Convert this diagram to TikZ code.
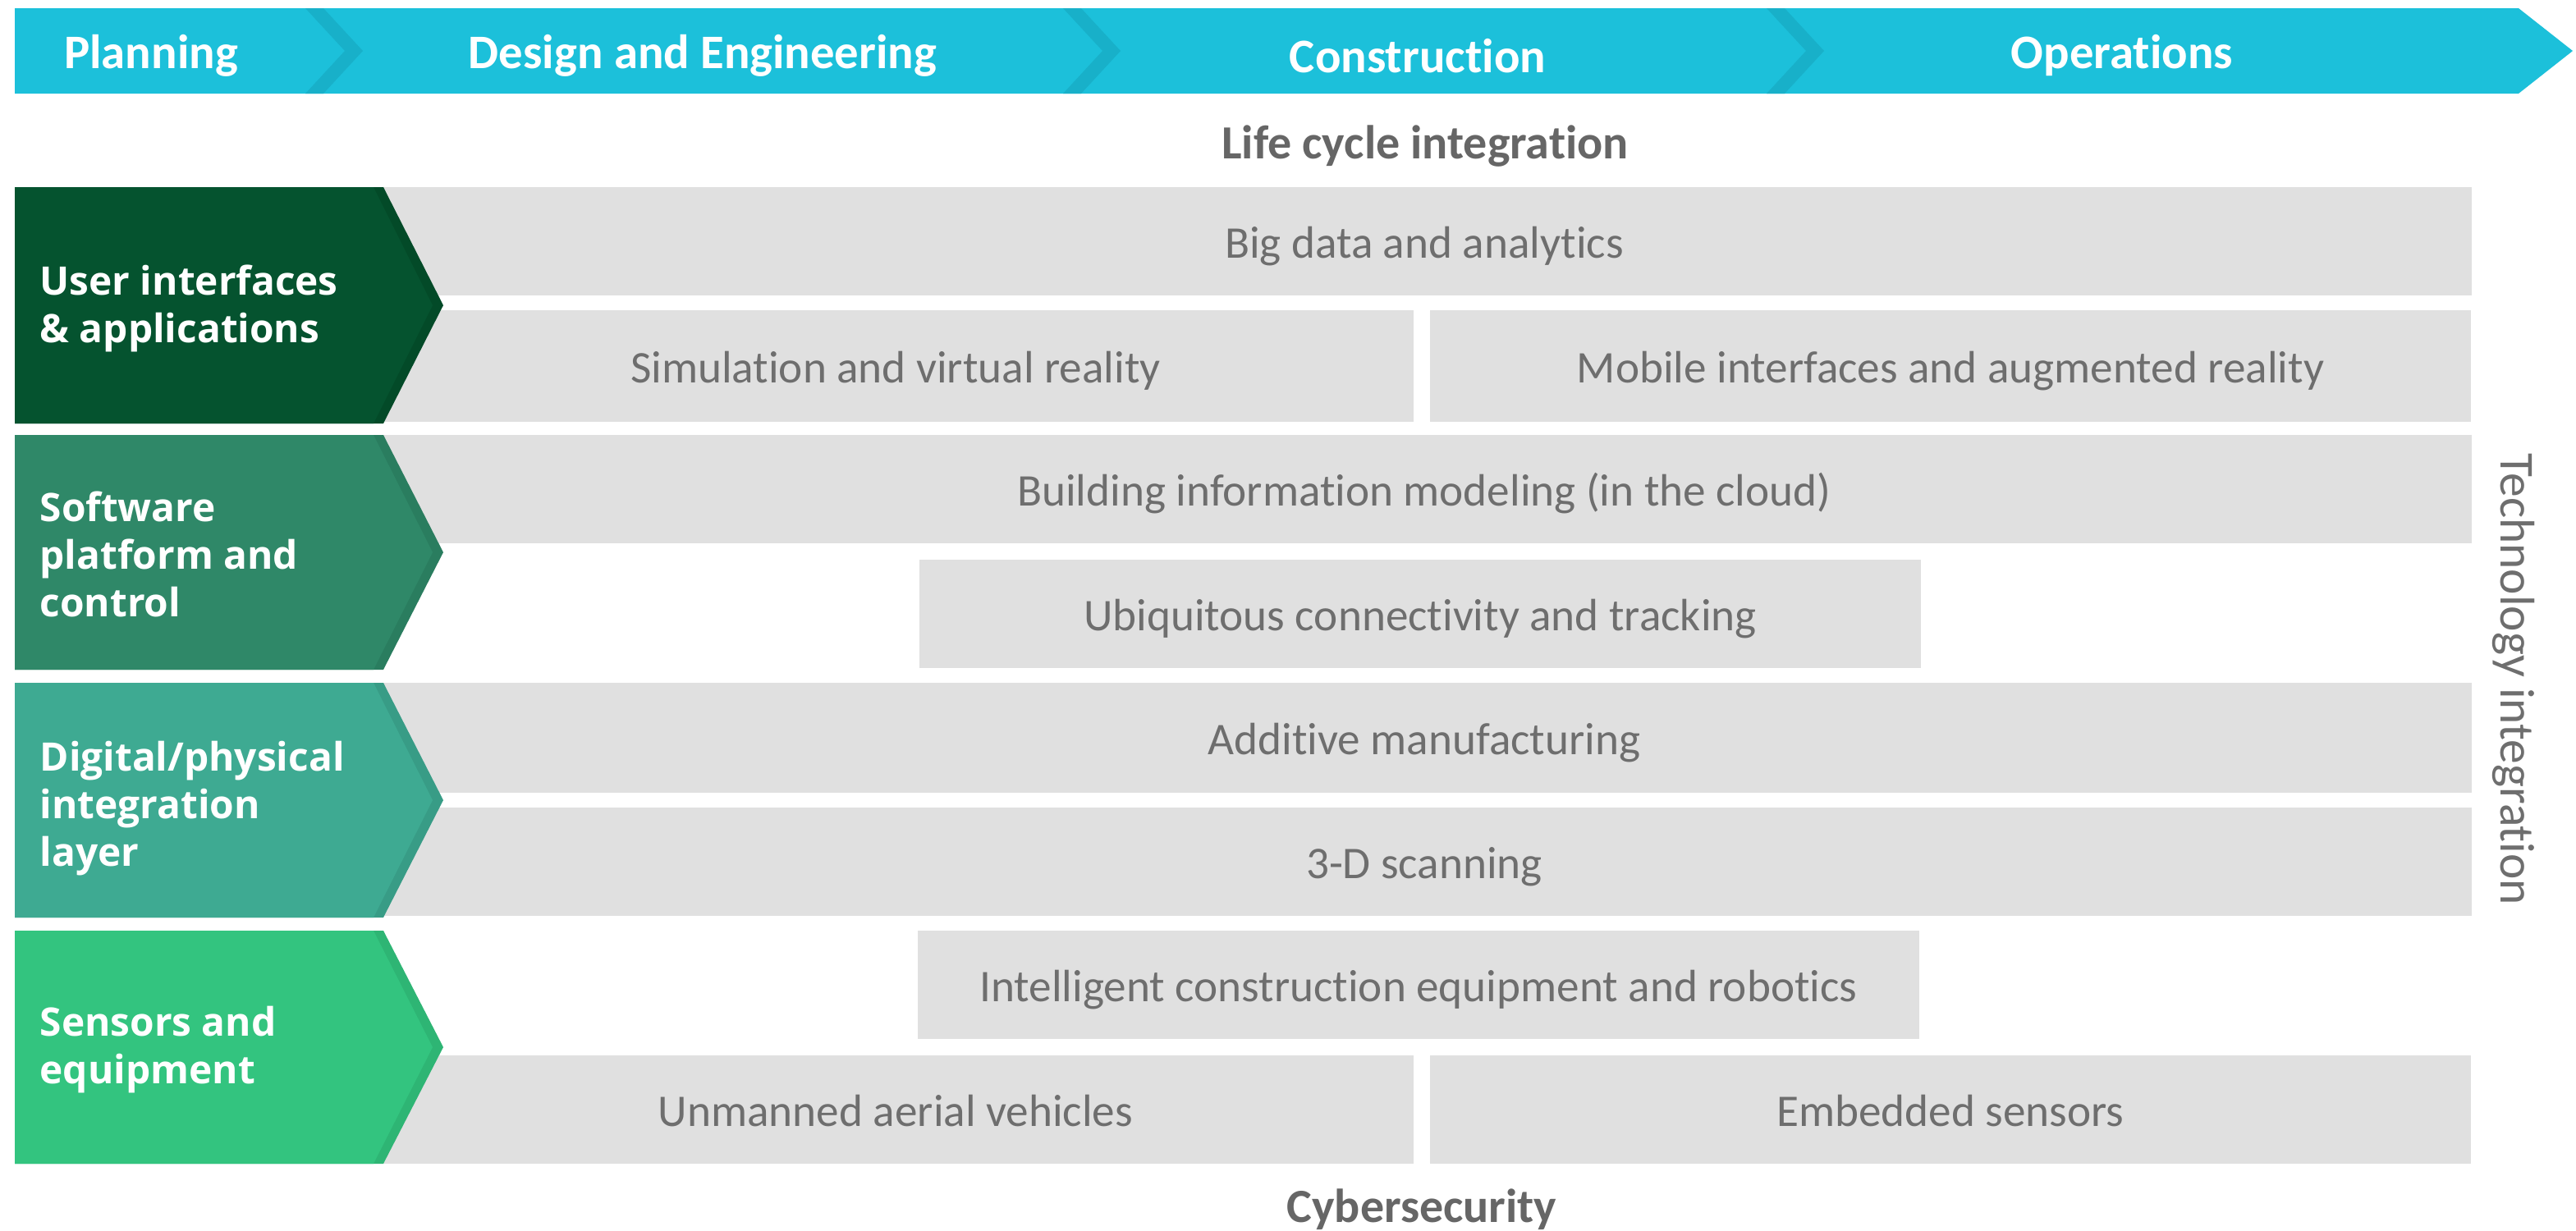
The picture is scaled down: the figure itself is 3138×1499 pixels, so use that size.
\documentclass[tikz,border=0pt]{standalone}
\usepackage{fontspec}
\setmainfont[Ligatures=NoCommon]{Carlito}
\newfontfamily\labelfont{Open Sans}
\definecolor{cyanband}{HTML}{1CC0DA}
\definecolor{cyanshade}{HTML}{18B0C9}
\definecolor{gA}{HTML}{05532F}
\definecolor{gAd}{HTML}{034A28}
\definecolor{gB}{HTML}{2F8868}
\definecolor{gBd}{HTML}{2A7D5F}
\definecolor{gC}{HTML}{3EAA92}
\definecolor{gCd}{HTML}{389C86}
\definecolor{gD}{HTML}{33C47F}
\definecolor{gDd}{HTML}{2EB574}
\definecolor{boxgray}{HTML}{E0E0E0}
\definecolor{txtgray}{HTML}{6E6E6E}
\definecolor{headgray}{HTML}{666666}
\tikzset{
  graybox/.style={fill=boxgray, draw=none, inner sep=0pt, text=txtgray,
    text height=12.5pt, text depth=0.8pt, font=\fontsize{15.7}{18}\selectfont},
  phase/.style={text=white, font=\bfseries\fontsize{16.7}{19}\selectfont},
  layerlabel/.style={text=white, anchor=west, align=left, inner sep=0pt,
    font=\labelfont\bfseries\fontsize{13.6}{16.5}\selectfont},
  headtext/.style={text=headgray, font=\bfseries\fontsize{16.5}{19}\selectfont},
}
\begin{document}
\begin{tikzpicture}[x=0.01cm, y=-0.01cm]
\useasboundingbox (0,0) rectangle (3138,1499);
\fill[white] (0,0) rectangle (3138,1499);
% top banner
\fill[cyanband] (18,10) -- (3068,10) -- (3134,62) -- (3068,114) -- (18,114) -- cycle;
\foreach \xa in {372,1295,2152}{
  \fill[cyanshade] (\xa,10) -- (\xa+22,10) -- (\xa+70,62) -- (\xa+22,114) -- (\xa,114) -- (\xa+48,62) -- cycle;
}
\node[phase] (planning) at (184,68) {Planning};
\node[phase] (design) at (856,68) {Design and Engineering};
\node[phase] (construction) at (1727,68) {Construction};
\node[phase] (operations) at (2585,68) {Operations};

\node[headtext] (lifecycle) at (1736,178) {Life cycle integration};

% gray boxes
\node[graybox, minimum width=25.50cm, minimum height=1.32cm] (bigdata) at (1735,294) {Big data and analytics};
\node[graybox, minimum width=12.62cm, minimum height=1.36cm] (simulation) at (1091,446) {Simulation and virtual reality};
\node[graybox, minimum width=12.68cm, minimum height=1.36cm] (mobile) at (2376,446) {Mobile interfaces and augmented reality};
\node[graybox, minimum width=25.50cm, minimum height=1.32cm] (bim) at (1735,596) {Building information modeling (in the cloud)};
\node[graybox, minimum width=12.20cm, minimum height=1.32cm] (ubiq) at (1730,748) {Ubiquitous connectivity and tracking};
\node[graybox, minimum width=25.50cm, minimum height=1.34cm] (additive) at (1735,899) {Additive manufacturing};
\node[graybox, minimum width=25.50cm, minimum height=1.32cm] (scanning) at (1735,1050) {3-D scanning};
\node[graybox, minimum width=12.20cm, minimum height=1.32cm] (intelligent) at (1728,1200) {Intelligent construction equipment and robotics};
\node[graybox, minimum width=12.62cm, minimum height=1.32cm] (uav) at (1091,1352) {Unmanned aerial vehicles};
\node[graybox, minimum width=12.68cm, minimum height=1.32cm] (embedded) at (2376,1352) {Embedded sensors};

% layer chevrons
\foreach \top/\bot/\cd/\cl in {228/516/gAd/gA, 530/816/gBd/gB, 832/1118/gCd/gC, 1134/1418/gDd/gD}{
  \pgfmathsetmacro{\mid}{(\top+\bot)/2}
  \fill[\cd] (18,\top) -- (467,\top) -- (540,\mid) -- (467,\bot) -- (18,\bot) -- cycle;
  \fill[\cl] (18,\top) -- (455,\top) -- (527,\mid) -- (455,\bot) -- (18,\bot) -- cycle;
}
\node[layerlabel] (ui) at (48,376) {User interfaces\\\& applications};
\node[layerlabel] (software) at (48,675) {Software\\platform and\\control};
\node[layerlabel] (digital) at (48,985) {Digital/physical\\integration\\layer};
\node[layerlabel] (sensors) at (48,1279) {Sensors and\\equipment};

\node[text=txtgray, rotate=-90, font=\fontsize{16.9}{19}\selectfont] (techint) at (3062,828) {Technology integration};
\node[headtext] (cyber) at (1732,1474) {Cybersecurity};
\end{tikzpicture}
\end{document}
